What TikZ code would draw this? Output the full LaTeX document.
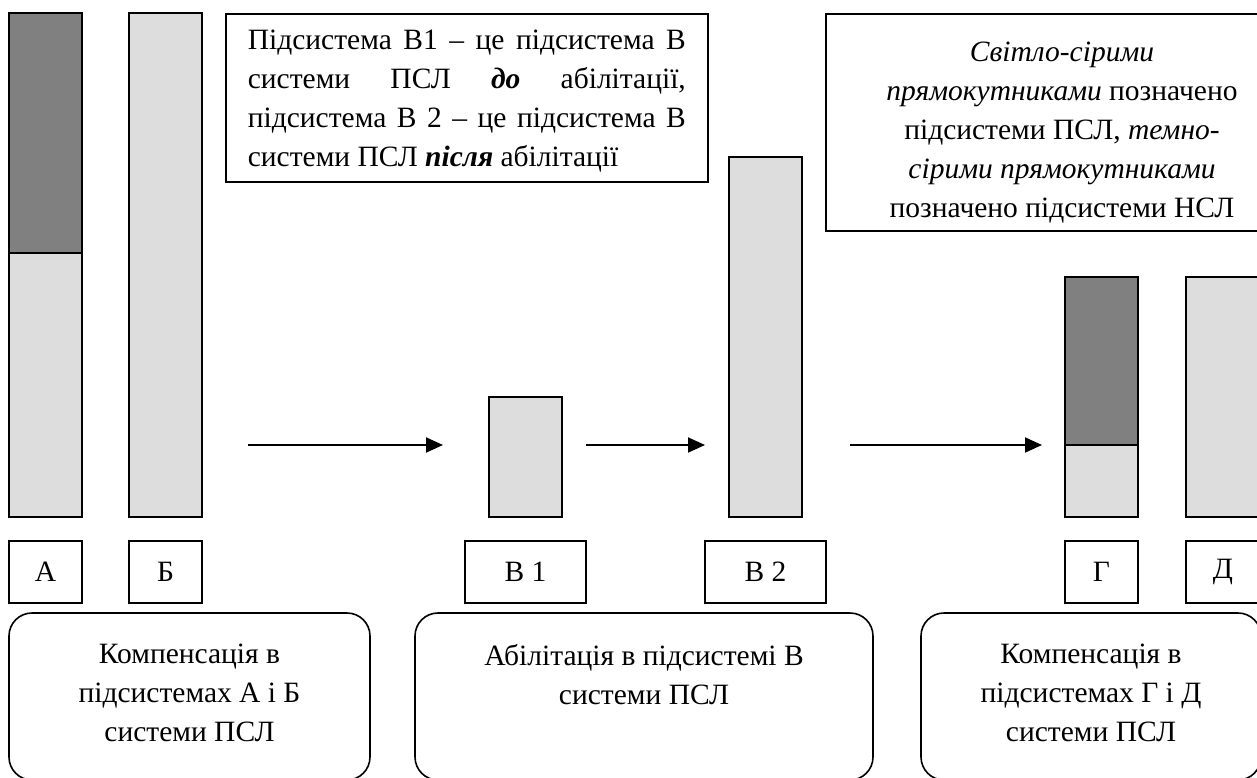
\documentclass[tikz,border=0pt]{standalone}
\usepackage{fontspec}
\setmainfont{Liberation Serif}
\usetikzlibrary{arrows.meta}
\definecolor{lightbar}{HTML}{DDDDDD}
\definecolor{darkbar}{HTML}{808080}
\begin{document}
\begin{tikzpicture}[x=1pt,y=-1pt,
  frame/.style={draw=black,line width=1.6pt},
  bar/.style={frame,anchor=north west,inner sep=0pt,outer sep=0pt},
  lbar/.style={bar,fill=lightbar},
  dbar/.style={bar,fill=darkbar},
  lab/.style={frame,anchor=north west,inner sep=0pt,outer sep=0pt,font=\fontsize{29.5}{39}\selectfont},
  rbox/.style={frame,rounded corners=23pt,anchor=north west,inner sep=0pt,outer sep=0pt},
  txt/.style={font=\fontsize{29.5}{39}\selectfont,inner sep=0pt},
  arr/.style={line width=1.9pt,-{Triangle[length=17pt,width=15pt]}}]
\useasboundingbox (0,0) rectangle (1257,778);
% bars
\node[dbar,minimum width=73pt,minimum height=240pt] (Atop) at (9,13) {};
\node[lbar,minimum width=73pt,minimum height=264pt] (Abot) at (9,253) {};
\node[lbar,minimum width=73pt,minimum height=504pt] (B) at (129,13) {};
\node[lbar,minimum width=73pt,minimum height=120pt] (V1) at (489,397) {};
\node[lbar,minimum width=73pt,minimum height=360pt] (V2) at (729,157) {};
\node[dbar,minimum width=73pt,minimum height=168pt] (Gtop) at (1065,277) {};
\node[lbar,minimum width=73pt,minimum height=72pt] (Gbot) at (1065,445) {};
\node[lbar,minimum width=74pt,minimum height=240pt] (D) at (1186,277) {};
% labels
\node[lab,minimum width=73pt,minimum height=62pt] (lA) at (9,541) {А};
\node[lab,minimum width=73pt,minimum height=62pt] (lB) at (129,541) {Б};
\node[lab,minimum width=121pt,minimum height=62pt] (lV1) at (465,541) {В 1};
\node[lab,minimum width=121pt,minimum height=62pt] (lV2) at (705,541) {В 2};
\node[lab,minimum width=73pt,minimum height=62pt] (lG) at (1065,541) {Г};
\node[lab,minimum width=74pt,minimum height=62pt] (lD) at (1186,541) {Д};
% arrows
\coordinate (a1s) at (248,445); \coordinate (a1e) at (443,445);
\coordinate (a2s) at (586,445); \coordinate (a2e) at (705,445);
\coordinate (a3s) at (850,445); \coordinate (a3e) at (1042,445);
\draw[arr] (a1s) -- (a1e);
\draw[arr] (a2s) -- (a2e);
\draw[arr] (a3s) -- (a3e);
% note boxes
\node[frame,anchor=north west,inner sep=0pt,minimum width=482pt,minimum height=168pt] (note1) at (225,13) {};
\node[txt,text width=438pt,align=justify] at ([yshift=-3pt]note1.center) {Підсистема В1 – це підсистема В\linebreak системи ПСЛ \textbf{\textit{до}} абілітації,\linebreak підсистема В 2 – це підсистема В\linebreak системи ПСЛ \textbf{\textit{після}} абілітації};
\node[frame,anchor=north west,inner sep=0pt,minimum width=480pt,minimum height=217pt] (note2) at (825,13) {};
\node[txt,align=center] at (1062,133) {\textit{Світло-сірими}\\\textit{прямокутниками} позначено\\підсистеми ПСЛ, \textit{темно-}\\\textit{сірими прямокутниками}\\позначено підсистеми НСЛ};
% rounded boxes
\node[rbox,minimum width=361pt,minimum height=167pt] (r1) at (9,613) {};
\node[rbox,minimum width=458pt,minimum height=167pt] (r2) at (415,613) {};
\node[rbox,minimum width=340pt,minimum height=167pt] (r3) at (921,613) {};
\node[txt,anchor=north,align=center] at ([yshift=-31pt]r1.north) {Компенсація в\\підсистемах А і Б\\системи ПСЛ};
\node[txt,anchor=north,align=center] at ([yshift=-31pt]r2.north) {Абілітація в підсистемі В\\системи ПСЛ};
\node[txt,anchor=north,align=center] at ([yshift=-31pt]r3.north) {Компенсація в\\підсистемах Г і Д\\системи ПСЛ};
\end{tikzpicture}
\end{document}
